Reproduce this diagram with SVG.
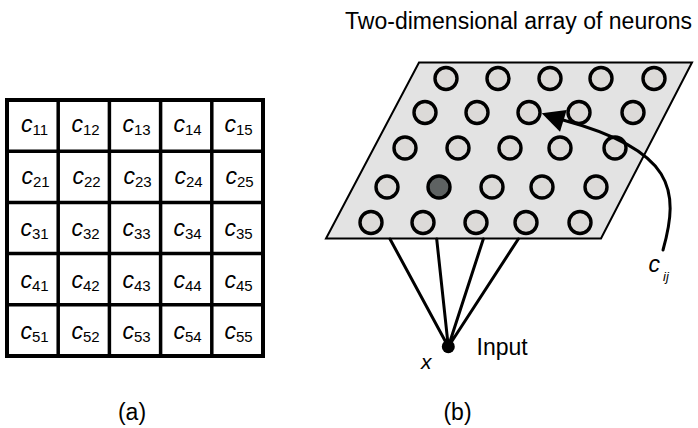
<svg xmlns="http://www.w3.org/2000/svg" width="698" height="428" viewBox="0 0 698 428">
<style>
text{font-family:"Liberation Sans",Arial,Helvetica,sans-serif;fill:#000}
.ct{font-size:23px;text-anchor:middle}
.c{font-style:italic}
.sub{font-size:15px}
.lbl{font-size:23px}
.neu{fill:#dcdad8;stroke:#000;stroke-width:3.4}
.dark{fill:#5e6262}
.wire{stroke:#000;stroke-width:3;fill:none;stroke-linecap:round}
</style>
<g id="grid-a">
<rect x="7" y="100" width="256" height="256" fill="#fff" stroke="#000" stroke-width="4"/>
<path d="M58.2 100V356M109.4 100V356M160.6 100V356M211.8 100V356M7 151.2H263M7 202.4H263M7 253.6H263M7 304.8H263" stroke="#000" stroke-width="3.5" fill="none"/>
<g class="ct">
<text x="34.5" y="131.5"><tspan class="c">c</tspan><tspan class="sub" dy="3">11</tspan></text>
<text x="85.5" y="131.5"><tspan class="c">c</tspan><tspan class="sub" dy="3">12</tspan></text>
<text x="136.5" y="131.5"><tspan class="c">c</tspan><tspan class="sub" dy="3">13</tspan></text>
<text x="187.5" y="131.5"><tspan class="c">c</tspan><tspan class="sub" dy="3">14</tspan></text>
<text x="238.5" y="131.5"><tspan class="c">c</tspan><tspan class="sub" dy="3">15</tspan></text>
<text x="35.5" y="183.5"><tspan class="c">c</tspan><tspan class="sub" dy="3">21</tspan></text>
<text x="86.5" y="183.5"><tspan class="c">c</tspan><tspan class="sub" dy="3">22</tspan></text>
<text x="137.5" y="183.5"><tspan class="c">c</tspan><tspan class="sub" dy="3">23</tspan></text>
<text x="188.5" y="183.5"><tspan class="c">c</tspan><tspan class="sub" dy="3">24</tspan></text>
<text x="239.5" y="183.5"><tspan class="c">c</tspan><tspan class="sub" dy="3">25</tspan></text>
<text x="34.5" y="235.5"><tspan class="c">c</tspan><tspan class="sub" dy="3">31</tspan></text>
<text x="85.5" y="235.5"><tspan class="c">c</tspan><tspan class="sub" dy="3">32</tspan></text>
<text x="136.5" y="235.5"><tspan class="c">c</tspan><tspan class="sub" dy="3">33</tspan></text>
<text x="187.5" y="235.5"><tspan class="c">c</tspan><tspan class="sub" dy="3">34</tspan></text>
<text x="238.5" y="235.5"><tspan class="c">c</tspan><tspan class="sub" dy="3">35</tspan></text>
<text x="34.5" y="287.5"><tspan class="c">c</tspan><tspan class="sub" dy="3">41</tspan></text>
<text x="85.5" y="287.5"><tspan class="c">c</tspan><tspan class="sub" dy="3">42</tspan></text>
<text x="136.5" y="287.5"><tspan class="c">c</tspan><tspan class="sub" dy="3">43</tspan></text>
<text x="187.5" y="287.5"><tspan class="c">c</tspan><tspan class="sub" dy="3">44</tspan></text>
<text x="238.5" y="287.5"><tspan class="c">c</tspan><tspan class="sub" dy="3">45</tspan></text>
<text x="34.5" y="339"><tspan class="c">c</tspan><tspan class="sub" dy="3">51</tspan></text>
<text x="85.5" y="339"><tspan class="c">c</tspan><tspan class="sub" dy="3">52</tspan></text>
<text x="136.5" y="339"><tspan class="c">c</tspan><tspan class="sub" dy="3">53</tspan></text>
<text x="187.5" y="339"><tspan class="c">c</tspan><tspan class="sub" dy="3">54</tspan></text>
<text x="238.5" y="339"><tspan class="c">c</tspan><tspan class="sub" dy="3">55</tspan></text>
</g>
</g>
<text class="lbl" x="132" y="420" text-anchor="middle" font-size="24">(a)</text>

<text id="title" class="lbl" x="345" y="28.5" textLength="347" lengthAdjust="spacing">Two-dimensional array of neurons</text>

<g id="sheet">
<polygon points="419,62.5 692,62.5 601,238.5 326,238.5" fill="#e3e3e3" stroke="#000" stroke-width="2"/>
</g>
<g id="neurons">
<circle class="neu" cx="446" cy="78.5" r="11"/>
<circle class="neu" cx="498" cy="78.5" r="11"/>
<circle class="neu" cx="550" cy="78.5" r="11"/>
<circle class="neu" cx="601" cy="78.5" r="11"/>
<circle class="neu" cx="654" cy="78.5" r="11"/>
<circle class="neu" cx="425" cy="112.5" r="11"/>
<circle class="neu" cx="477" cy="112.5" r="11"/>
<circle class="neu" cx="529" cy="112.5" r="11"/>
<circle class="neu" cx="579" cy="112.5" r="11"/>
<circle class="neu" cx="633" cy="112.5" r="11"/>
<circle class="neu" cx="405" cy="148" r="11"/>
<circle class="neu" cx="458" cy="148" r="11"/>
<circle class="neu" cx="510" cy="148" r="11"/>
<circle class="neu" cx="560" cy="148" r="11"/>
<circle class="neu" cx="615" cy="148" r="11"/>
<circle class="neu" cx="387" cy="187" r="11"/>
<circle class="neu dark" cx="439" cy="187" r="11"/>
<circle class="neu" cx="492" cy="187" r="11"/>
<circle class="neu" cx="542" cy="187" r="11"/>
<circle class="neu" cx="596" cy="187" r="11"/>
<circle class="neu" cx="371" cy="222.5" r="11"/>
<circle class="neu" cx="423" cy="222.5" r="11"/>
<circle class="neu" cx="476" cy="222.5" r="11"/>
<circle class="neu" cx="526" cy="222.5" r="11"/>
<circle class="neu" cx="580" cy="222.5" r="11"/>
</g>

<g id="connectors">
<path class="wire" d="M448.3 346.7L390 239M448.3 346.7L436.7 239M448.3 346.7L483.3 239M448.3 346.7L518.3 239"/>
<path class="wire" d="M663 250C680 190 674 150 563 120"/>
<polygon points="541.7,113.3 566.7,110 560,131.7" fill="#000"/>
</g>

<g id="input">
<circle cx="448.3" cy="346.7" r="6.5" fill="#000"/>
<text class="lbl" x="476.5" y="355">Input</text>
<text x="421" y="368.5" font-size="21" font-style="italic">x</text>
</g>

<g id="cij-label">
<text x="648.5" y="272" font-size="23" font-style="italic">c</text>
<text x="663" y="280.5" font-size="13" font-style="italic">ij</text>
</g>

<text class="lbl" x="457.5" y="420" text-anchor="middle" font-size="24">(b)</text>
</svg>
